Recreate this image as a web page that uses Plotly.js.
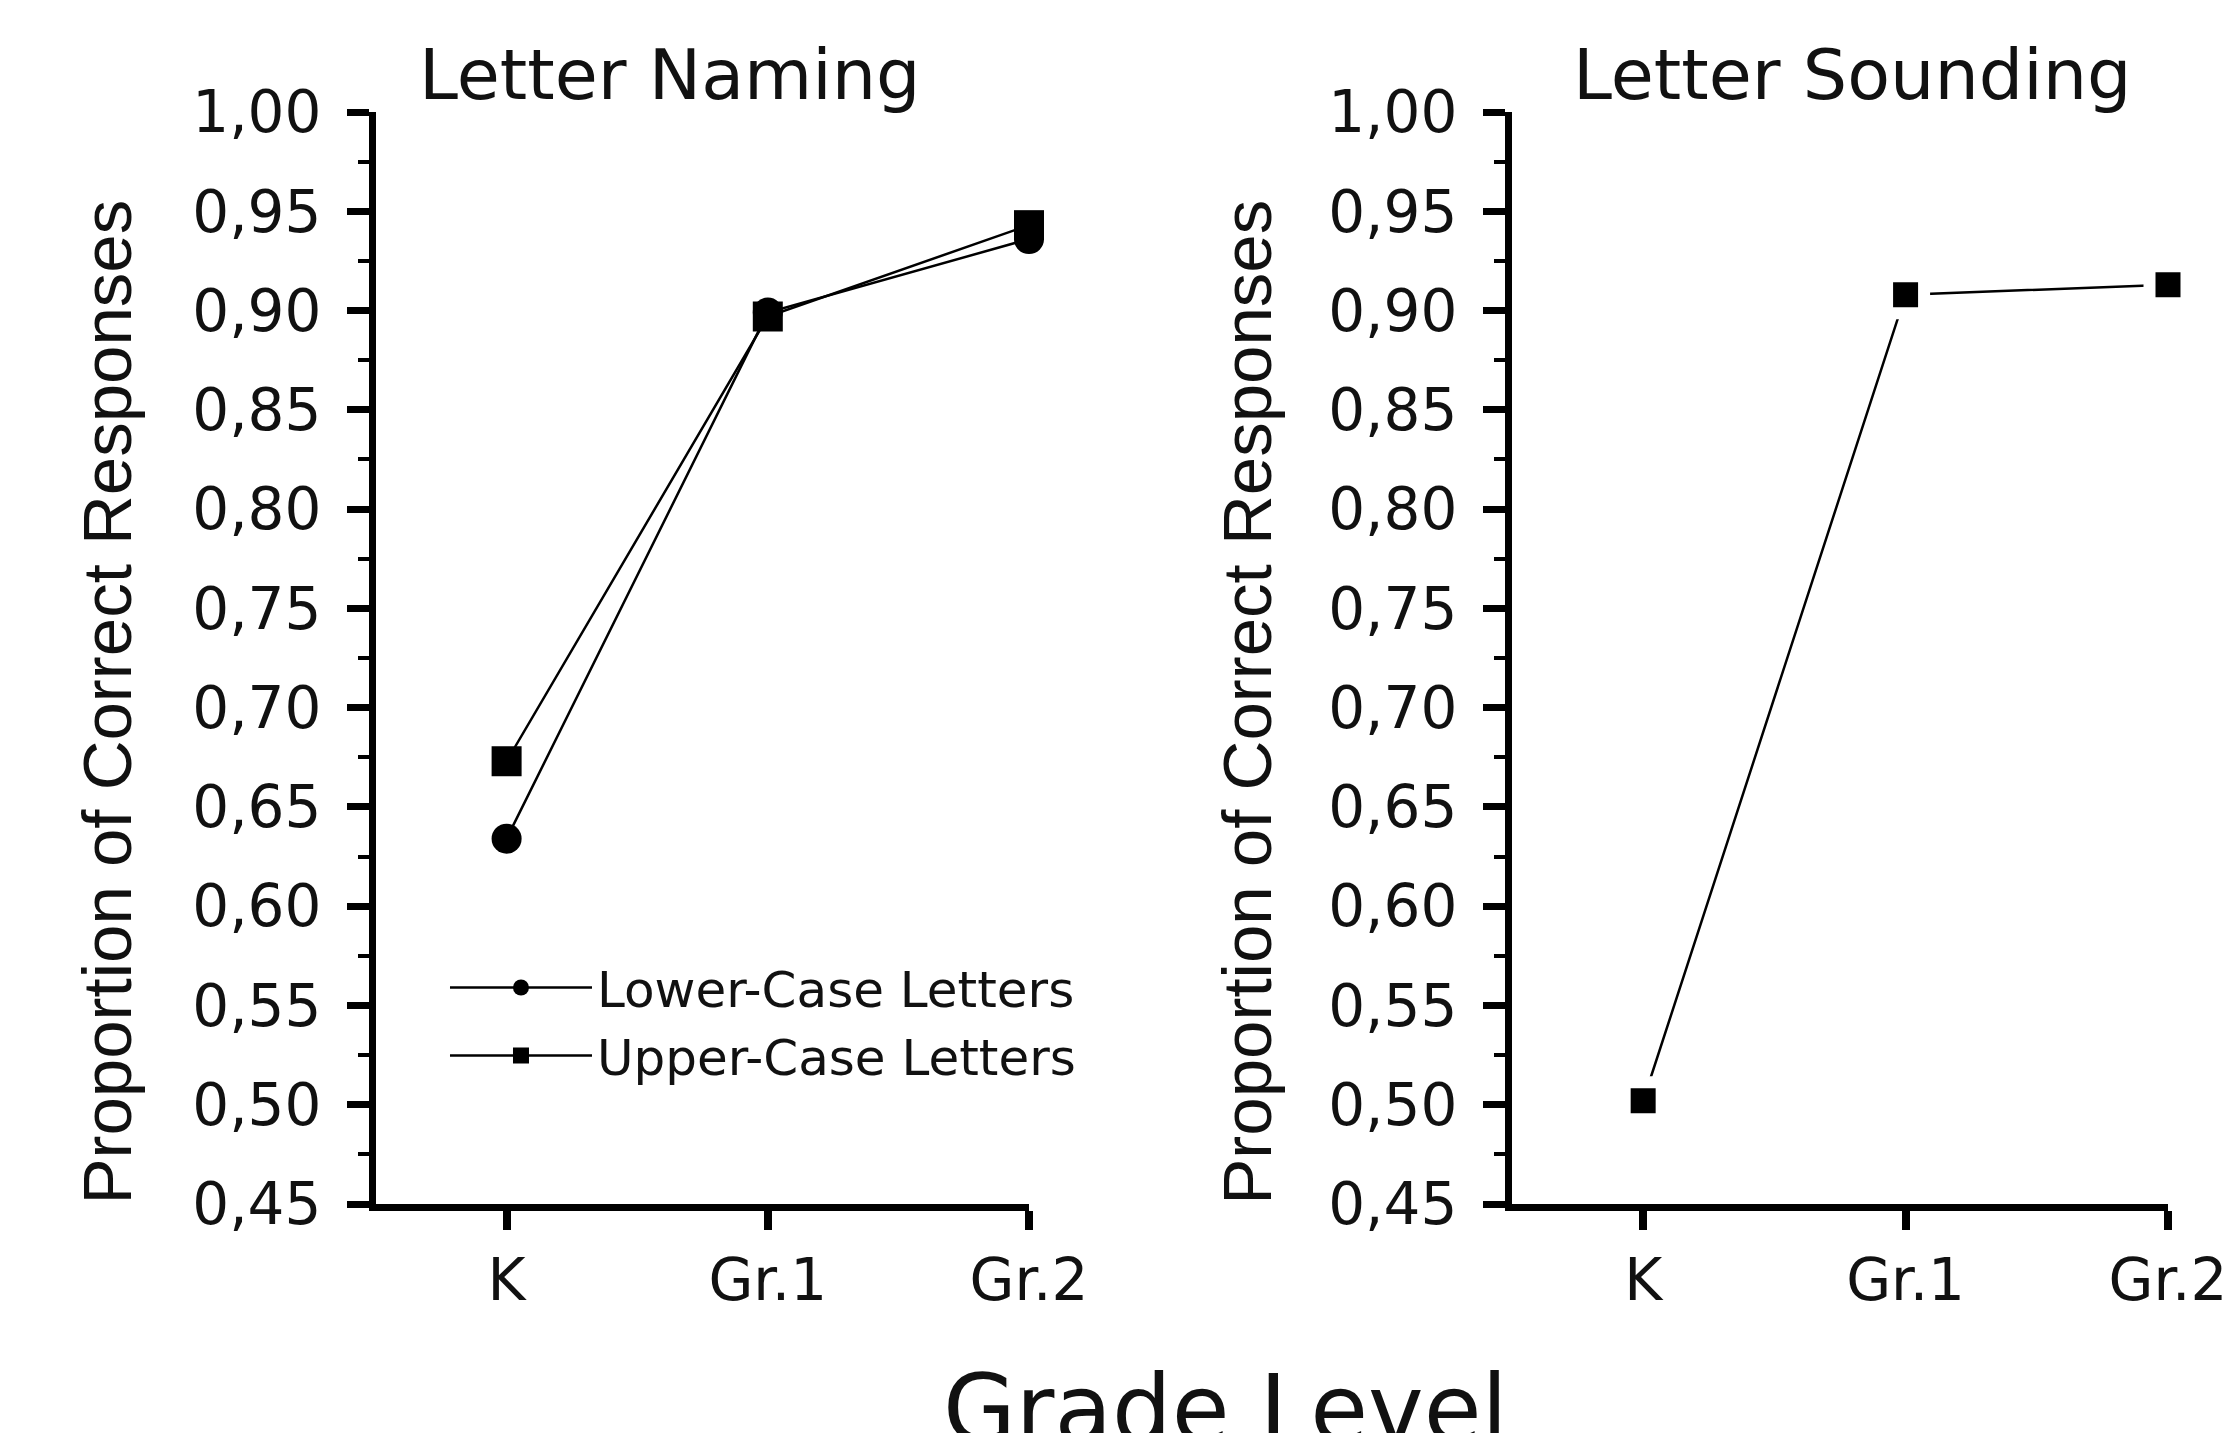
<!DOCTYPE html>
<html><head><meta charset="utf-8">
<script src="https://cdn.plot.ly/plotly-3.0.1.min.js"></script>
<style>html,body{margin:0;padding:0;background:#fff}</style>
</head><body>
<div id="chart" style="width:2228px;height:1433px"></div>
<script>
// ---- data ----
const grades = ['K', 'Gr.1', 'Gr.2'];
const namingLower = [0.634, 0.899, 0.936];
const namingUpper = [0.673, 0.897, 0.943];
const sounding = [0.502, 0.908, 0.913];
const seriesNames = ['Lower-Case Letters', 'Upper-Case Letters', 'Letter Sounding'];
const panelTitles = ['Letter Naming', 'Letter Sounding'];
const yTitle = 'Proportion of Correct Responses';
const xTitle = 'Grade Level';

const F = 'DejaVu Sans';
const ink = '#111';

const traces = [
  {x: grades, y: namingLower, name: seriesNames[0], type: 'scatter', mode: 'lines+markers',
   xaxis: 'x', yaxis: 'y', cliponaxis: false, line: {color: '#000', width: 2.5},
   marker: {symbol: 'circle', size: 30, color: '#000'}},
  {x: grades, y: namingUpper, name: seriesNames[1], type: 'scatter', mode: 'lines+markers',
   xaxis: 'x', yaxis: 'y', cliponaxis: false, line: {color: '#000', width: 2.5},
   marker: {symbol: 'square', size: 30, color: '#000'}},
  {x: grades, y: sounding, name: seriesNames[2], type: 'scatter', mode: 'lines+markers',
   xaxis: 'x2', yaxis: 'y2', cliponaxis: false, showlegend: false, line: {color: '#000', width: 2.5},
   marker: {symbol: 'square', size: 37, color: '#000', line: {color: '#fff', width: 12}}}
];

function xAxis(domain, anchor) {
  return {
    domain: domain, anchor: anchor, type: 'category', range: [-0.5, 2],
    showline: true, linecolor: '#000', linewidth: 7, showgrid: false, zeroline: false,
    ticks: 'outside', ticklen: 19, tickwidth: 8, tickcolor: '#000',
    tickfont: {family: F, size: 58, color: ink}, ticklabelstandoff: 0
  };
}
function yAxis(anchor) {
  return {
    anchor: anchor, range: [0.45, 1.0], tick0: 0.45, dtick: 0.05, tickformat: '.2f',
    showline: true, linecolor: '#000', linewidth: 7, showgrid: false, zeroline: false,
    ticks: 'outside', ticklen: 22, tickwidth: 7, tickcolor: '#000',
    tickfont: {family: F, size: 58, color: ink}, ticklabelstandoff: 14,
    minor: {ticks: 'outside', ticklen: 11, tickwidth: 4, tickcolor: '#000', tick0: 0.45, dtick: 0.025, showgrid: false}
  };
}

const layout = {
  width: 2228, height: 1433,
  margin: {l: 376, r: 60, t: 112, b: 229},
  paper_bgcolor: '#fff', plot_bgcolor: '#fff',
  separators: ', ',
  showlegend: true,
  legend: {x: 0.0385, y: 0.234, xanchor: 'left', yanchor: 'top', bgcolor: 'rgba(0,0,0,0)',
           font: {family: F, size: 50, color: ink}, itemwidth: 142, tracegroupgap: 0},
  xaxis: xAxis([0, 0.3644], 'y'),
  yaxis: yAxis('x'),
  xaxis2: xAxis([0.6339, 1], 'y2'),
  yaxis2: yAxis('x2'),
  annotations: [
    {text: panelTitles[0], xref: 'paper', yref: 'paper', x: 0.164, y: 1.034, xanchor: 'center', yanchor: 'middle',
     showarrow: false, font: {family: F, size: 70, color: ink}},
    {text: panelTitles[1], xref: 'paper', yref: 'paper', x: 0.824, y: 1.034, xanchor: 'center', yanchor: 'middle',
     showarrow: false, font: {family: F, size: 70, color: ink}},
    {text: yTitle, xref: 'paper', yref: 'paper', x: -0.1496, y: 0.46, xanchor: 'center', yanchor: 'middle',
     textangle: -90, showarrow: false, font: {family: 'Liberation Sans', size: 69, color: ink}},
    {text: yTitle, xref: 'paper', yref: 'paper', x: 0.4866, y: 0.46, xanchor: 'center', yanchor: 'middle',
     textangle: -90, showarrow: false, font: {family: 'Liberation Sans', size: 69, color: ink}},
    {text: xTitle, xref: 'paper', yref: 'paper', x: 0.4738, y: -0.136, xanchor: 'center', yanchor: 'top',
     showarrow: false, font: {family: F, size: 94, color: ink}}
  ]
};

Plotly.newPlot('chart', traces, layout, {staticPlot: true, displayModeBar: false});
</script>
</body></html>
